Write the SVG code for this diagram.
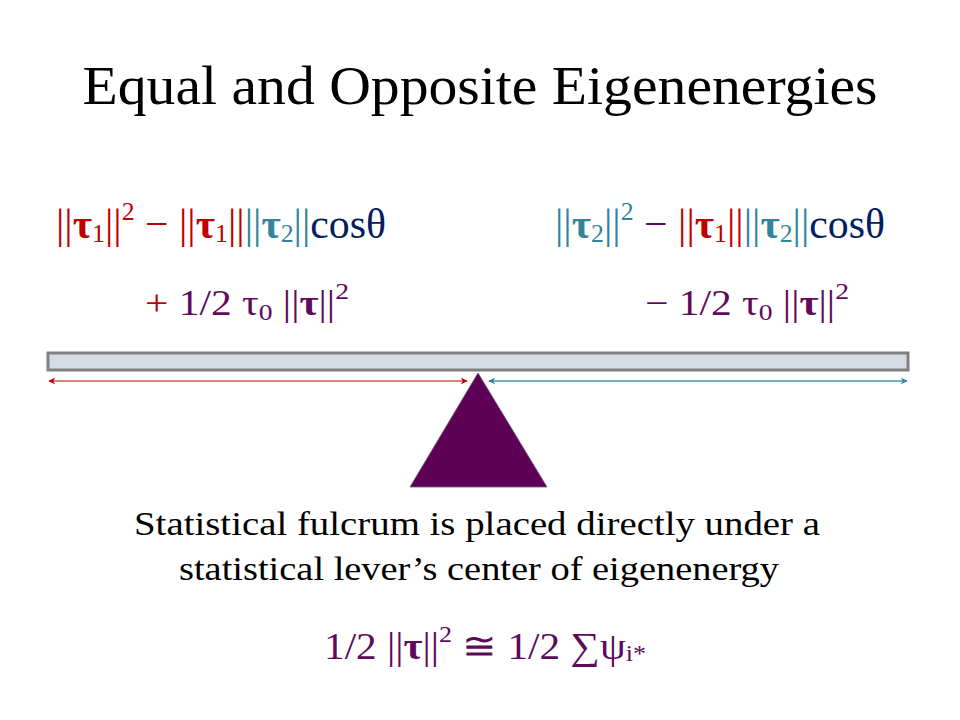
<svg xmlns="http://www.w3.org/2000/svg" width="960" height="720" viewBox="0 0 960 720">
<style>
text{font-family:"Liberation Serif","DejaVu Serif",serif}
.t{font-size:54px;fill:#000}
.b{font-size:33px;fill:#000}
.r{fill:#C00000}.g{fill:#31849B}.n{fill:#002060}.p{fill:#5E0B5B}
.bd{font-weight:bold}
.f1{font-size:42px}.f2{font-size:36px}.f3{font-size:38px}
.s1{font-size:26px}.s2{font-size:24px}
</style>
<defs>
<marker id="ar" viewBox="0 0 10 10" refX="9" refY="5" markerWidth="7" markerHeight="7" orient="auto-start-reverse" markerUnits="userSpaceOnUse"><path d="M0,0 L10,5 L0,10 L3,5 Z" fill="#C00000"/></marker>
<marker id="ag" viewBox="0 0 10 10" refX="9" refY="5" markerWidth="7" markerHeight="7" orient="auto-start-reverse" markerUnits="userSpaceOnUse"><path d="M0,0 L10,5 L0,10 L3,5 Z" fill="#31849B"/></marker>
</defs>
<rect width="960" height="720" fill="#fff"/>
<g id="title"><text class="t" x="480" y="104" text-anchor="middle" textLength="795" lengthAdjust="spacingAndGlyphs">Equal and Opposite Eigenenergies</text></g>
<g id="left-formula">
<text class="f1" x="56" y="238" textLength="330" lengthAdjust="spacingAndGlyphs"><tspan class="r">||</tspan><tspan class="r bd">τ</tspan><tspan class="r s1" dy="4">1</tspan><tspan class="r" dy="-4">||</tspan><tspan class="r s1" dy="-18">2</tspan><tspan class="r" dy="18"> − ||</tspan><tspan class="r bd">τ</tspan><tspan class="r s1" dy="4">1</tspan><tspan class="r" dy="-4">||</tspan><tspan class="g">||</tspan><tspan class="g bd">τ</tspan><tspan class="g s1" dy="4">2</tspan><tspan class="g" dy="-4">||</tspan><tspan class="n">cosθ</tspan></text>
<text class="f2 p" x="145" y="315" textLength="204" lengthAdjust="spacingAndGlyphs"><tspan class="r">+</tspan> 1/2 τ<tspan class="s2" dy="5">0</tspan><tspan dy="-5"> ||</tspan><tspan class="bd">τ</tspan>||<tspan class="s2" dy="-16">2</tspan></text>
</g>
<g id="right-formula">
<text class="f1" x="555" y="238" textLength="330" lengthAdjust="spacingAndGlyphs"><tspan class="g">||</tspan><tspan class="g bd">τ</tspan><tspan class="g s1" dy="4">2</tspan><tspan class="g" dy="-4">||</tspan><tspan class="g s1" dy="-18">2</tspan><tspan class="p" dy="18"> − </tspan><tspan class="r">||</tspan><tspan class="r bd">τ</tspan><tspan class="r s1" dy="4">1</tspan><tspan class="r" dy="-4">||</tspan><tspan class="g">||</tspan><tspan class="g bd">τ</tspan><tspan class="g s1" dy="4">2</tspan><tspan class="g" dy="-4">||</tspan><tspan class="n">cosθ</tspan></text>
<text class="f2 p" x="645" y="315" textLength="204" lengthAdjust="spacingAndGlyphs">− 1/2 τ<tspan class="s2" dy="5">0</tspan><tspan dy="-5"> ||</tspan><tspan class="bd">τ</tspan>||<tspan class="s2" dy="-16">2</tspan></text>
</g>
<g id="lever"><rect x="48" y="353" width="860" height="17" fill="#D6DCE5" stroke="#808080" stroke-width="3"/></g>
<g id="connectors">
<line x1="49" y1="381" x2="467" y2="381" stroke="#D05656" stroke-width="1.5" marker-start="url(#ar)" marker-end="url(#ar)"/>
<line x1="489" y1="381" x2="907" y2="381" stroke="#4A97A6" stroke-width="1.5" marker-start="url(#ag)" marker-end="url(#ag)"/>
</g>
<g id="fulcrum"><polygon points="478,373 547,487 410,487" fill="#5E0055" stroke="#6b5a6b" stroke-width="0.8"/></g>
<g id="caption">
<text class="b" x="477" y="535" text-anchor="middle" textLength="686" lengthAdjust="spacingAndGlyphs">Statistical fulcrum is placed directly under a</text>
<text class="b" x="479" y="580" text-anchor="middle" textLength="600" lengthAdjust="spacingAndGlyphs">statistical lever’s center of eigenenergy</text>
</g>
<g id="equation">
<text class="f3 p" x="324" y="659" textLength="322" lengthAdjust="spacingAndGlyphs">1/2 ||<tspan class="bd">τ</tspan>||<tspan class="s2" dy="-17">2</tspan><tspan dy="17"> ≅ 1/2 ∑ψ</tspan><tspan class="s2" dy="2">i*</tspan></text>
</g>
</svg>
